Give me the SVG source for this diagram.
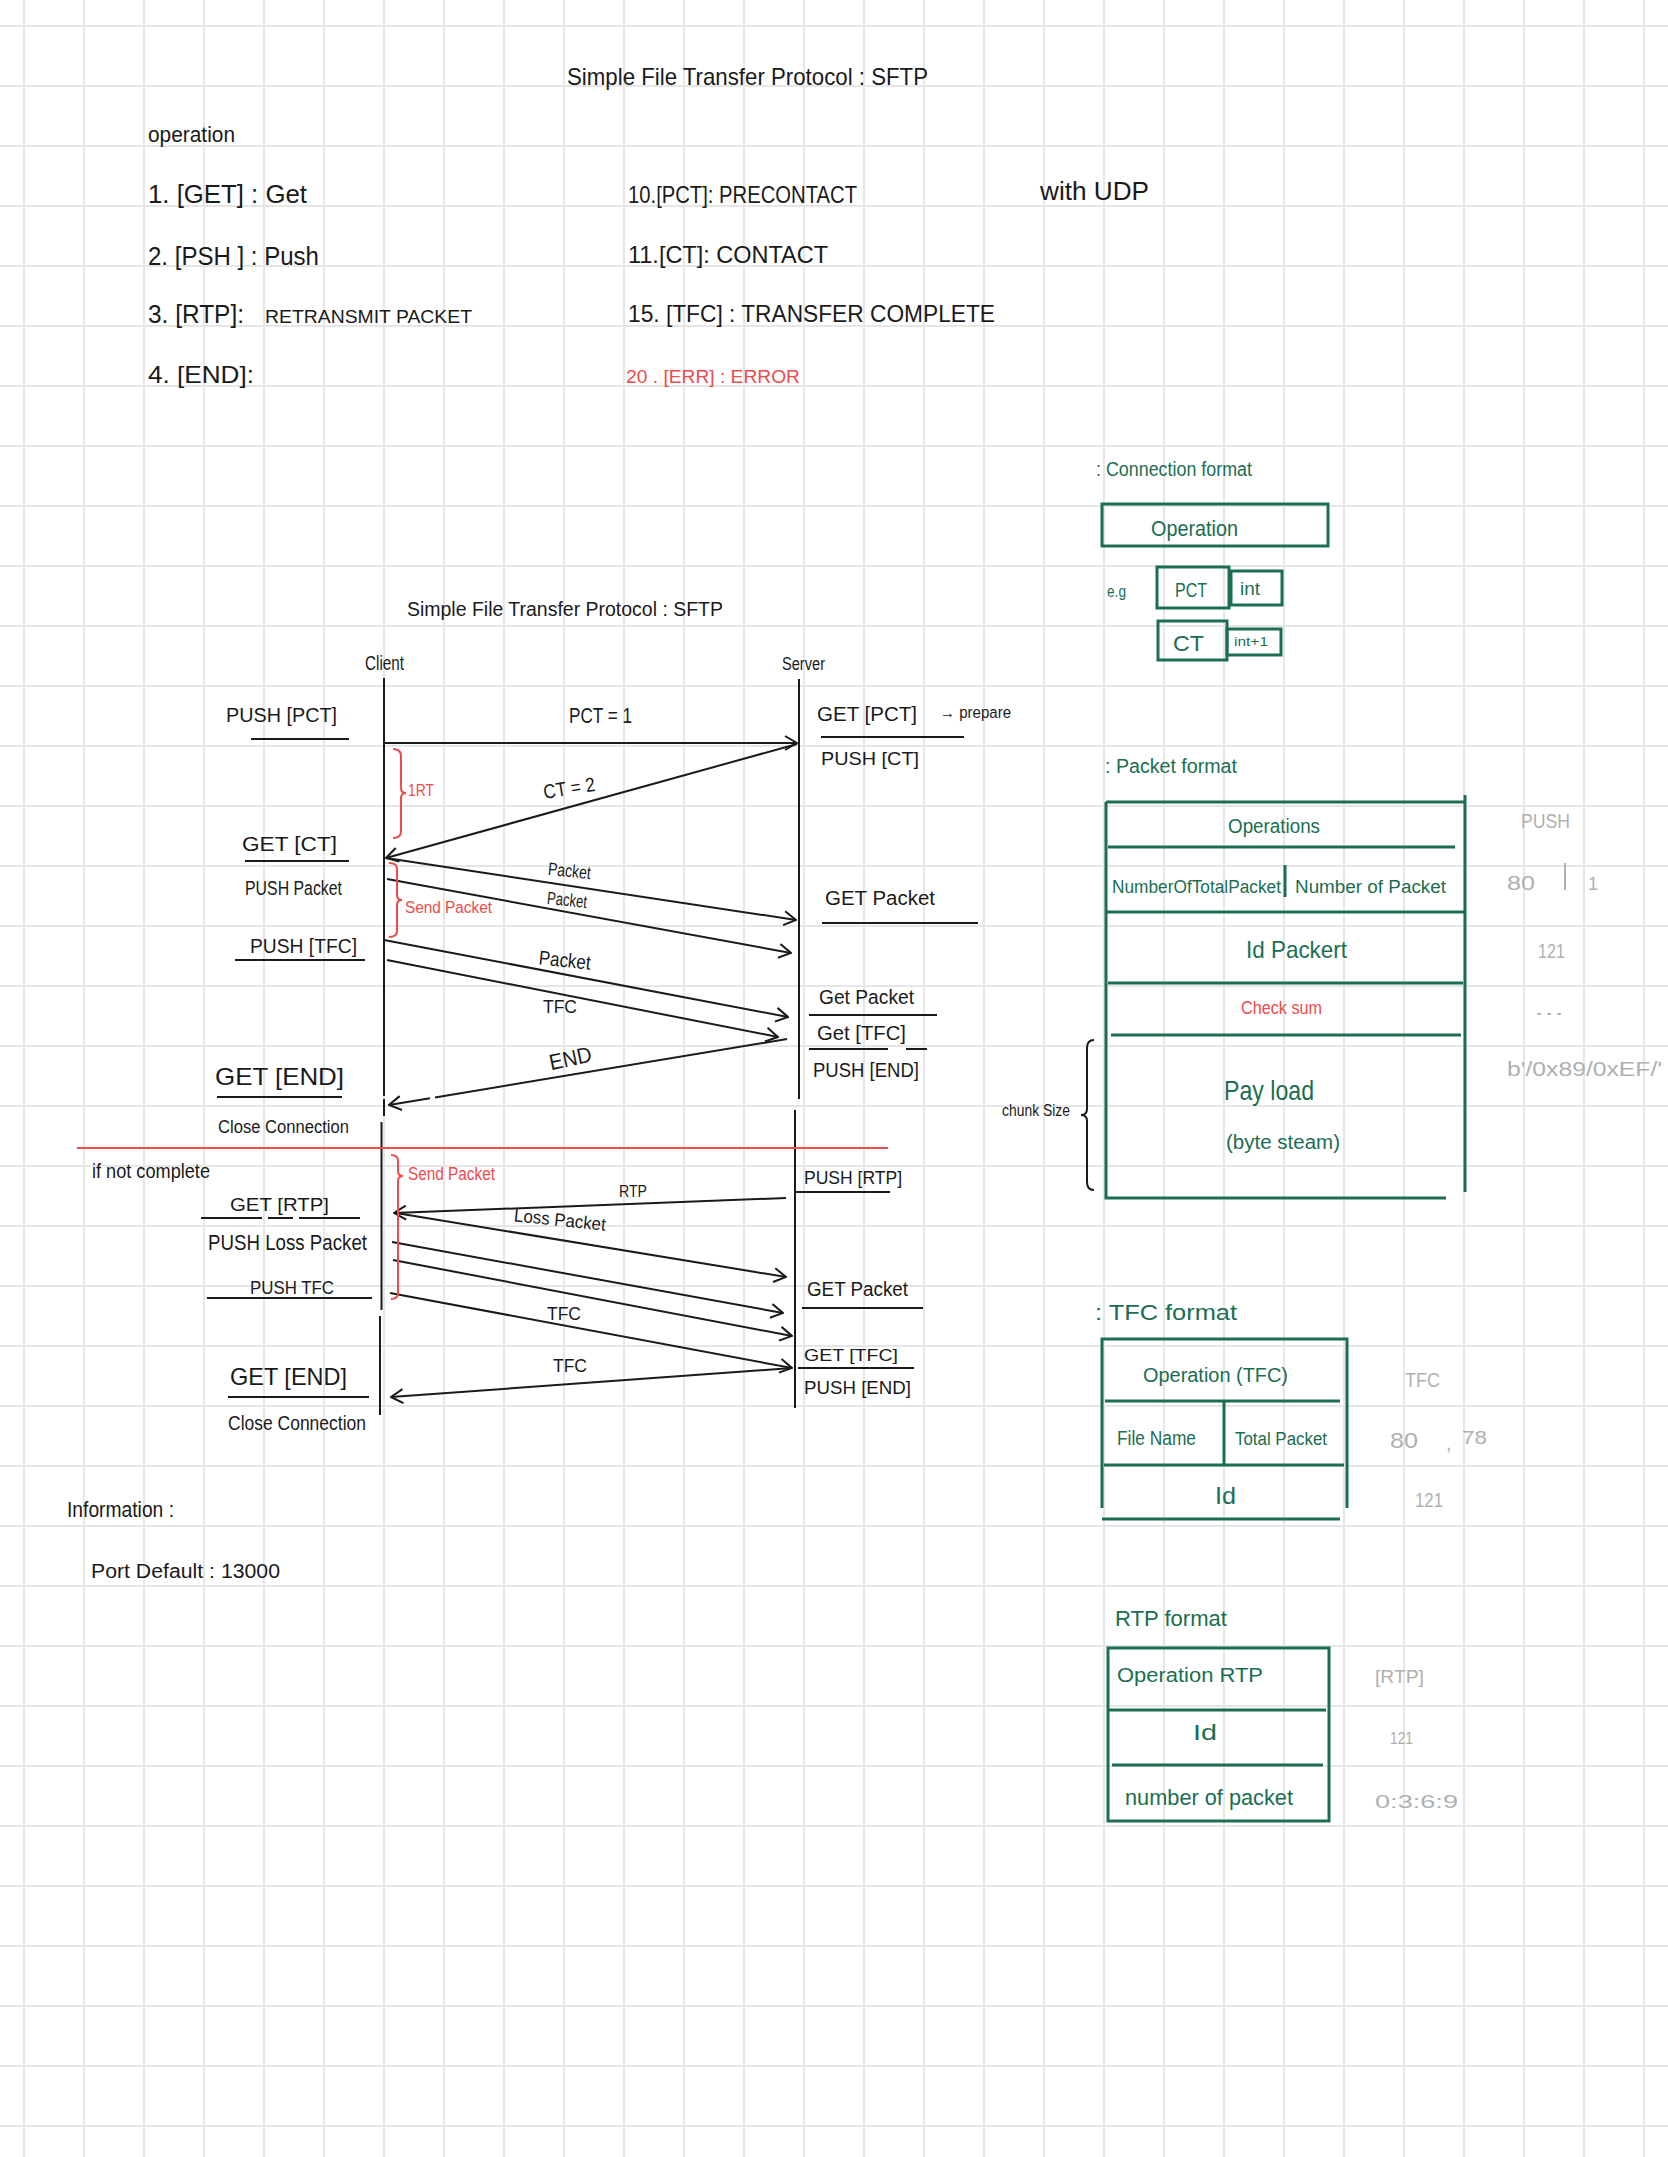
<svg xmlns="http://www.w3.org/2000/svg" width="1668" height="2157" viewBox="0 0 1668 2157">
<defs>
<style>
text{font-family:"Liberation Sans",Arial,sans-serif;fill:#1a1a1a}
.g{fill:#1b6e50}
.r{fill:#ee4b4b}
.gr{fill:#b0b0b0}
.ln{stroke:#1a1a1a;stroke-width:2;fill:none}
.ar{stroke:#1a1a1a;stroke-width:2;fill:none;marker-end:url(#ah)}
.gl{stroke:#1b6e50;stroke-width:3;fill:none}
.rl{stroke:#ee4b4b;stroke-width:2;fill:none}
.grid{stroke:#e6e6e6;stroke-width:2}
</style>
<marker id="ah" markerWidth="14" markerHeight="16" refX="13" refY="8" orient="auto" markerUnits="userSpaceOnUse">
<path d="M1,1 L13,8 L1,15" fill="none" stroke="#1a1a1a" stroke-width="2"/>
</marker>
<pattern id="gp" x="0" y="0" width="60" height="60" patternUnits="userSpaceOnUse">
<path d="M24,0 V60 M0,26 H60" class="grid"/>
</pattern>
</defs>
<rect width="1668" height="2157" fill="#ffffff"/>
<rect width="1668" height="2157" fill="url(#gp)"/>

<g id="title">
<text x="567" y="85" font-size="24" textLength="361" lengthAdjust="spacingAndGlyphs">Simple File Transfer Protocol : SFTP</text>
</g>

<g id="operations">
<text x="148" y="142" font-size="22" textLength="87" lengthAdjust="spacingAndGlyphs">operation</text>
<text x="148" y="203" font-size="26" textLength="159" lengthAdjust="spacingAndGlyphs">1. [GET] : Get</text>
<text x="148" y="265" font-size="26" textLength="171" lengthAdjust="spacingAndGlyphs">2. [PSH ] : Push</text>
<text x="148" y="323" font-size="26" textLength="96" lengthAdjust="spacingAndGlyphs">3. [RTP]:</text>
<text x="265" y="323" font-size="19" textLength="207" lengthAdjust="spacingAndGlyphs">RETRANSMIT PACKET</text>
<text x="148" y="383" font-size="24" textLength="106" lengthAdjust="spacingAndGlyphs">4. [END]:</text>
<text x="628" y="203" font-size="24" textLength="229" lengthAdjust="spacingAndGlyphs">10.[PCT]: PRECONTACT</text>
<text x="628" y="263" font-size="24" textLength="200" lengthAdjust="spacingAndGlyphs">11.[CT]: CONTACT</text>
<text x="628" y="322" font-size="24" textLength="367" lengthAdjust="spacingAndGlyphs">15. [TFC] : TRANSFER COMPLETE</text>
<text x="626" y="383" font-size="18" class="r" textLength="174" lengthAdjust="spacingAndGlyphs">20 . [ERR] : ERROR</text>
<text x="1040" y="200" font-size="26" textLength="109" lengthAdjust="spacingAndGlyphs">with UDP</text>
</g>

<g id="connection-format">
<text x="1096" y="476" font-size="20" class="g" textLength="156" lengthAdjust="spacingAndGlyphs">: Connection format</text>
<rect x="1102" y="504" width="226" height="42" class="gl"/>
<text x="1151" y="536" font-size="22" class="g" textLength="87" lengthAdjust="spacingAndGlyphs">Operation</text>
<text x="1107" y="597" font-size="16" class="g" textLength="19" lengthAdjust="spacingAndGlyphs">e.g</text>
<rect x="1157" y="567" width="72" height="41" class="gl"/>
<text x="1175" y="597" font-size="20" class="g" textLength="32" lengthAdjust="spacingAndGlyphs">PCT</text>
<rect x="1231" y="571" width="51" height="34" class="gl"/>
<text x="1240" y="595" font-size="18" class="g" textLength="20" lengthAdjust="spacingAndGlyphs">int</text>
<rect x="1158" y="621" width="69" height="39" class="gl"/>
<text x="1173" y="651" font-size="22" class="g" textLength="31" lengthAdjust="spacingAndGlyphs">CT</text>
<rect x="1227" y="629" width="54" height="26" class="gl"/>
<text x="1234" y="646" font-size="13" class="g" textLength="34" lengthAdjust="spacingAndGlyphs">int+1</text>
</g>

<g id="sequence-title">
<text x="407" y="616" font-size="20" textLength="316" lengthAdjust="spacingAndGlyphs">Simple File Transfer Protocol : SFTP</text>
</g>

<g id="client">
<text x="365" y="670" font-size="20" textLength="39" lengthAdjust="spacingAndGlyphs">Client</text>
<path d="M384,678 V1096 M384,1099 V1116 M381.5,1122 V1310 M380,1316 V1415" class="ln"/>
<text x="226" y="722" font-size="20" textLength="111" lengthAdjust="spacingAndGlyphs">PUSH [PCT]</text>
<path d="M251,739 H349" class="ln"/>
<text x="242" y="851" font-size="20" textLength="95" lengthAdjust="spacingAndGlyphs">GET [CT]</text>
<path d="M245,861 H349" class="ln"/>
<text x="245" y="895" font-size="20" textLength="97" lengthAdjust="spacingAndGlyphs">PUSH Packet</text>
<text x="250" y="953" font-size="20" textLength="107" lengthAdjust="spacingAndGlyphs">PUSH [TFC]</text>
<path d="M235,960 H365" class="ln"/>
<text x="215" y="1085" font-size="24" textLength="129" lengthAdjust="spacingAndGlyphs">GET [END]</text>
<path d="M217,1097 H342" class="ln"/>
<text x="218" y="1133" font-size="18" textLength="131" lengthAdjust="spacingAndGlyphs">Close Connection</text>
<text x="92" y="1178" font-size="20" textLength="118" lengthAdjust="spacingAndGlyphs">if not complete</text>
<text x="230" y="1211" font-size="19" textLength="99" lengthAdjust="spacingAndGlyphs">GET [RTP]</text>
<path d="M201,1218 H262 M268,1218 H293 M299,1218 H360" class="ln"/>
<text x="208" y="1250" font-size="22" textLength="159" lengthAdjust="spacingAndGlyphs">PUSH Loss Packet</text>
<text x="250" y="1294" font-size="18" textLength="84" lengthAdjust="spacingAndGlyphs">PUSH TFC</text>
<path d="M207,1298 H372" class="ln"/>
<text x="230" y="1385" font-size="24" textLength="117" lengthAdjust="spacingAndGlyphs">GET [END]</text>
<path d="M228,1397 H369" class="ln"/>
<text x="228" y="1430" font-size="20" textLength="138" lengthAdjust="spacingAndGlyphs">Close Connection</text>
</g>

<g id="server">
<text x="782" y="670" font-size="18" textLength="43" lengthAdjust="spacingAndGlyphs">Server</text>
<path d="M799,679 V1099 M795,1110 V1408" class="ln"/>
<text x="817" y="721" font-size="20" textLength="100" lengthAdjust="spacingAndGlyphs">GET [PCT]</text>
<text x="940" y="718" font-size="16" textLength="71" lengthAdjust="spacingAndGlyphs">→ prepare</text>
<path d="M821,737 H964" class="ln"/>
<text x="821" y="765" font-size="18" textLength="98" lengthAdjust="spacingAndGlyphs">PUSH [CT]</text>
<text x="825" y="905" font-size="20" textLength="110" lengthAdjust="spacingAndGlyphs">GET Packet</text>
<path d="M822,923 H978" class="ln"/>
<text x="819" y="1004" font-size="20" textLength="95" lengthAdjust="spacingAndGlyphs">Get Packet</text>
<path d="M809,1015 H937" class="ln"/>
<text x="817" y="1040" font-size="20" textLength="89" lengthAdjust="spacingAndGlyphs">Get [TFC]</text>
<path d="M809,1049 H888 M906,1049 H927" class="ln"/>
<text x="813" y="1077" font-size="20" textLength="106" lengthAdjust="spacingAndGlyphs">PUSH [END]</text>
<text x="804" y="1184" font-size="18" textLength="98" lengthAdjust="spacingAndGlyphs">PUSH [RTP]</text>
<path d="M795,1192 H890" class="ln"/>
<text x="807" y="1296" font-size="20" textLength="101" lengthAdjust="spacingAndGlyphs">GET Packet</text>
<path d="M802,1308 H923" class="ln"/>
<text x="804" y="1361" font-size="17" textLength="94" lengthAdjust="spacingAndGlyphs">GET [TFC]</text>
<path d="M798,1368 H914" class="ln"/>
<text x="804" y="1394" font-size="18" textLength="107" lengthAdjust="spacingAndGlyphs">PUSH [END]</text>
</g>

<g id="connectors">
<path d="M384,743 L797,743" class="ar"/>
<path d="M797,744 L386,858" class="ar"/>
<path d="M386,858 L796,920" class="ar"/>
<path d="M387,879 L791,953" class="ar"/>
<path d="M384,940 L788,1017" class="ar"/>
<path d="M387,960 L778,1037" class="ar"/>
<path d="M787,1039 L435,1097.4" class="ln"/>
<path d="M430,1098.2 L389,1105" class="ar"/>
<path d="M786,1198 L394,1213" class="ar"/>
<path d="M396,1213 L786,1277" class="ar"/>
<path d="M392,1242 L783,1313" class="ar"/>
<path d="M393,1260 L792,1336" class="ar"/>
<path d="M390,1293 L792,1368" class="ar"/>
<path d="M792,1368 L391,1397" class="ar"/>
</g>

<g id="connector-labels">
<text x="569" y="723" font-size="22" textLength="63" lengthAdjust="spacingAndGlyphs">PCT = 1</text>
<text x="543" y="795" font-size="20" textLength="52" lengthAdjust="spacingAndGlyphs" transform="rotate(-9 569 787)">CT = 2</text>
<text x="548" y="877" font-size="18" textLength="43" lengthAdjust="spacingAndGlyphs" transform="rotate(6 569 870)">Packet</text>
<text x="547" y="906" font-size="18" textLength="40" lengthAdjust="spacingAndGlyphs" transform="rotate(6 567 900)">Packet</text>
<text x="539" y="967" font-size="20" textLength="52" lengthAdjust="spacingAndGlyphs" transform="rotate(6 565 958)">Packet</text>
<text x="543" y="1013" font-size="18" textLength="34" lengthAdjust="spacingAndGlyphs">TFC</text>
<text x="549" y="1066" font-size="22" textLength="43" lengthAdjust="spacingAndGlyphs" transform="rotate(-12 570 1059)">END</text>
<text x="619" y="1197" font-size="16" textLength="28" lengthAdjust="spacingAndGlyphs">RTP</text>
<text x="514" y="1226" font-size="18" textLength="92" lengthAdjust="spacingAndGlyphs" transform="rotate(6 560 1220)">Loss Packet</text>
<text x="547" y="1320" font-size="18" textLength="34" lengthAdjust="spacingAndGlyphs">TFC</text>
<text x="553" y="1372" font-size="18" textLength="34" lengthAdjust="spacingAndGlyphs">TFC</text>
</g>

<g id="annotations">
<path d="M393,749 Q401,749 401,756 L401,788 Q401,793 406,793 Q401,793 401,798 L401,831 Q401,838 393,838" class="rl"/>
<text x="408" y="796" font-size="16" class="r" textLength="26" lengthAdjust="spacingAndGlyphs">1RT</text>
<path d="M389,863 Q397,863 397,869 L397,895 Q397,900 402,900 Q397,900 397,905 L397,931 Q397,937 389,937" class="rl"/>
<text x="405" y="913" font-size="16" class="r" textLength="87" lengthAdjust="spacingAndGlyphs">Send Packet</text>
<path d="M391,1155 Q398,1155 398,1161 L398,1171 Q398,1176 403,1176 Q398,1176 398,1181 L398,1293 Q398,1299 391,1299" class="rl"/>
<text x="408" y="1180" font-size="18" class="r" textLength="87" lengthAdjust="spacingAndGlyphs">Send Packet</text>
<path d="M77,1148 H888" class="rl"/>
</g>

<g id="packet-format">
<text x="1105" y="773" font-size="20" class="g" textLength="132" lengthAdjust="spacingAndGlyphs">: Packet format</text>
<path d="M1465,795 V1192 M1106,802 H1465 M1106,802 V1198 H1446 M1108,847 H1455 M1106,912 H1465 M1108,983 H1463 M1111,1035 H1461 M1285,865 V897" class="gl"/>
<text x="1228" y="833" font-size="20" class="g" textLength="92" lengthAdjust="spacingAndGlyphs">Operations</text>
<text x="1112" y="893" font-size="18" class="g" textLength="169" lengthAdjust="spacingAndGlyphs">NumberOfTotalPacket</text>
<text x="1295" y="893" font-size="18" class="g" textLength="151" lengthAdjust="spacingAndGlyphs">Number of Packet</text>
<text x="1246" y="958" font-size="24" class="g" textLength="101" lengthAdjust="spacingAndGlyphs">Id Packert</text>
<text x="1241" y="1014" font-size="18" class="r" textLength="81" lengthAdjust="spacingAndGlyphs">Check sum</text>
<text x="1224" y="1100" font-size="28" class="g" textLength="90" lengthAdjust="spacingAndGlyphs">Pay load</text>
<text x="1226" y="1149" font-size="20" class="g" textLength="114" lengthAdjust="spacingAndGlyphs">(byte steam)</text>
<text x="1002" y="1116" font-size="17" textLength="68" lengthAdjust="spacingAndGlyphs">chunk Size</text>
<path d="M1094,1040 Q1087,1040 1087,1048 L1087,1109 Q1087,1115 1081,1115 Q1087,1115 1087,1121 L1087,1182 Q1087,1190 1094,1190" class="ln"/>
<text x="1521" y="828" font-size="20" class="gr" textLength="49" lengthAdjust="spacingAndGlyphs">PUSH</text>
<text x="1507" y="890" font-size="20" class="gr" textLength="28" lengthAdjust="spacingAndGlyphs">80</text>
<path d="M1565,863 V890" stroke="#b0b0b0" stroke-width="2"/>
<text x="1588" y="890" font-size="18" class="gr">1</text>
<text x="1538" y="958" font-size="20" class="gr" textLength="27" lengthAdjust="spacingAndGlyphs">121</text>
<text x="1534" y="1015" font-size="18" class="gr" textLength="30" lengthAdjust="spacingAndGlyphs">...</text>
<text x="1507" y="1076" font-size="20" class="gr" textLength="155" lengthAdjust="spacingAndGlyphs">b'/0x89/0xEF/'</text>
</g>

<g id="tfc-format">
<text x="1095" y="1320" font-size="22" class="g" textLength="142" lengthAdjust="spacingAndGlyphs">: TFC format</text>
<path d="M1102,1508 V1339 H1347 V1508 M1102,1519 H1340 M1105,1401 H1340 M1104,1465 H1344 M1224,1401 V1465" class="gl"/>
<text x="1143" y="1382" font-size="20" class="g" textLength="145" lengthAdjust="spacingAndGlyphs">Operation (TFC)</text>
<text x="1117" y="1445" font-size="20" class="g" textLength="79" lengthAdjust="spacingAndGlyphs">File Name</text>
<text x="1235" y="1445" font-size="18" class="g" textLength="92" lengthAdjust="spacingAndGlyphs">Total Packet</text>
<text x="1215" y="1504" font-size="24" class="g" textLength="21" lengthAdjust="spacingAndGlyphs">Id</text>
<text x="1405" y="1387" font-size="20" class="gr" textLength="35" lengthAdjust="spacingAndGlyphs">TFC</text>
<text x="1390" y="1448" font-size="22" class="gr" textLength="28" lengthAdjust="spacingAndGlyphs">80</text>
<text x="1446" y="1450" font-size="20" class="gr">,</text>
<text x="1462" y="1444" font-size="18" class="gr" textLength="25" lengthAdjust="spacingAndGlyphs">78</text>
<text x="1415" y="1507" font-size="20" class="gr" textLength="28" lengthAdjust="spacingAndGlyphs">121</text>
</g>

<g id="rtp-format">
<text x="1115" y="1626" font-size="22" class="g" textLength="112" lengthAdjust="spacingAndGlyphs">RTP format</text>
<rect x="1108" y="1648" width="221" height="173" class="gl"/>
<path d="M1108,1710 H1326 M1112,1765 H1323" class="gl"/>
<text x="1117" y="1682" font-size="20" class="g" textLength="146" lengthAdjust="spacingAndGlyphs">Operation RTP</text>
<text x="1193" y="1740" font-size="22" class="g" textLength="24" lengthAdjust="spacingAndGlyphs">Id</text>
<text x="1125" y="1805" font-size="22" class="g" textLength="168" lengthAdjust="spacingAndGlyphs">number of packet</text>
<text x="1375" y="1683" font-size="18" class="gr" textLength="49" lengthAdjust="spacingAndGlyphs">[RTP]</text>
<text x="1390" y="1744" font-size="16" class="gr" textLength="23" lengthAdjust="spacingAndGlyphs">121</text>
<text x="1375" y="1808" font-size="18" class="gr" textLength="83" lengthAdjust="spacingAndGlyphs">0:3:6:9</text>
</g>

<g id="information">
<text x="67" y="1517" font-size="22" textLength="107" lengthAdjust="spacingAndGlyphs">Information :</text>
<text x="91" y="1578" font-size="20" textLength="189" lengthAdjust="spacingAndGlyphs">Port Default : 13000</text>
</g>
</svg>
